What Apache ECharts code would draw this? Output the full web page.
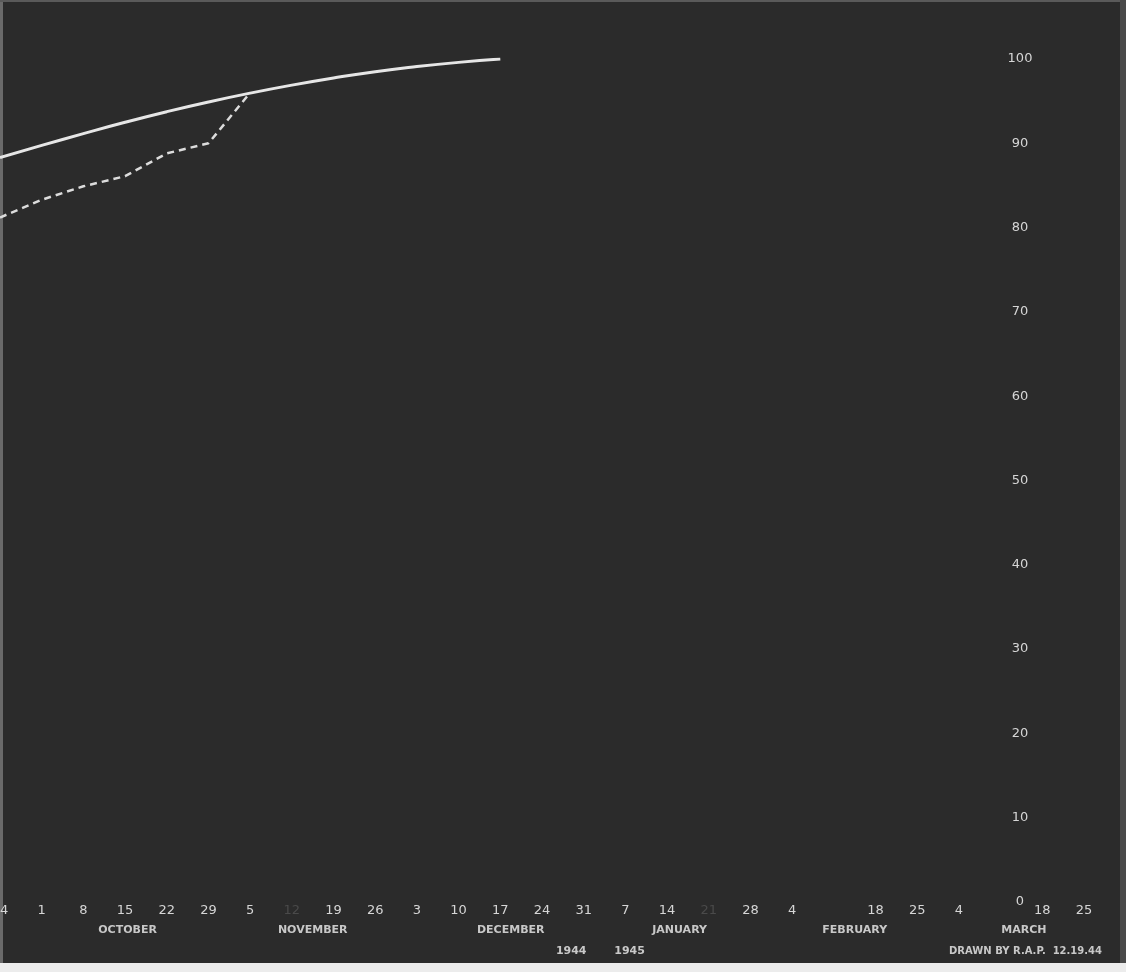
<!DOCTYPE html>
<html>
<head>
<meta charset="utf-8">
<script src="https://cdn.jsdelivr.net/npm/echarts@6/dist/echarts.min.js"></script>
<style>
html,body{margin:0;padding:0;background:#2b2b2b;}
#chart{width:1126px;height:972px;}
</style>
</head>
<body>
<div id="chart"></div>
<script>
// Week tick labels (Sundays, Sep 24 1944 .. Mar 25 1945)
var weekLabels = ["24","1","8","15","22","29","5","12","19","26","3","10","17","24","31","7","14","21","28","4","11","18","25","4","11","18","25"];
// Solid curve (per cent)
var solidValues = [88.3, 89.75, 91.15, 92.5, 93.75, 94.9, 95.95, 96.9, 97.75, 98.5, 99.1, 99.6, 100.0];
// Dashed line (per cent)
var dashedValues = [81.2, 83.3, 84.9, 86.1, 88.8, 90.0, 96.0];
// Month names and their centre (in week-index units)
var monthNames = ["OCTOBER","NOVEMBER","DECEMBER","JANUARY","FEBRUARY","MARCH"];
var monthCentres = [3.06, 7.5, 12.25, 16.3, 20.5, 24.56];
var yearNames = ["1944","1945"];
var yearCentres = [13.7, 15.1];
var footerText = "DRAWN BY R.A.P.  12.19.44";
var yTicks = [0,10,20,30,40,50,60,70,80,90,100];

var dimIdx = [7, 17];
var hiddenIdx = [20, 24];

function pad(arr, n){ var out = arr.slice(); while(out.length < n) out.push(null); return out; }

var chart = echarts.init(document.getElementById('chart'), null, {renderer:'canvas'});
var textColor = '#d6d6d6';
chart.setOption({
  backgroundColor: '#2b2b2b',
  animation: false,
  grid: {left: 0, right: 42, top: 59, bottom: 70, containLabel: false, outerBoundsMode: 'none'},
  xAxis: {
    type: 'category',
    data: weekLabels,
    boundaryGap: false,
    axisLine: {show: false},
    axisTick: {show: false},
    splitLine: {show: false},
    axisLabel: {
      interval: 0,
      margin: 2,
      hideOverlap: false,
      color: textColor,
      fontFamily: 'DejaVu Sans',
      fontSize: 13,
      formatter: function(v, i){
        if (hiddenIdx.indexOf(i) >= 0) return '';
        if (dimIdx.indexOf(i) >= 0) return '{d|' + v + '}';
        return v;
      },
      rich: {d: {color: '#4a4a4a', fontFamily: 'DejaVu Sans', fontSize: 13}}
    }
  },
  yAxis: {
    type: 'value',
    min: 0, max: 100, interval: 10,
    position: 'right',
    offset: -64,
    axisLine: {show: false},
    axisTick: {show: false},
    splitLine: {show: false},
    axisLabel: {
      margin: 0,
      align: 'center',
      color: textColor,
      fontFamily: 'DejaVu Sans',
      fontSize: 13,
      formatter: function(v){ return yTicks.indexOf(v) >= 0 ? String(v) : ''; }
    }
  },
  series: [
    {
      type: 'line',
      data: pad(solidValues, weekLabels.length),
      smooth: 0.5,
      showSymbol: false,
      connectNulls: false,
      lineStyle: {color: '#e6e6e6', width: 3}
    },
    {
      type: 'line',
      data: pad(dashedValues, weekLabels.length),
      smooth: false,
      showSymbol: false,
      lineStyle: {color: '#dcdcdc', width: 2.5, type: [7, 5]}
    }
  ]
});

var p0 = chart.convertToPixel({xAxisIndex: 0}, 0);
var pN = chart.convertToPixel({xAxisIndex: 0}, weekLabels.length - 1);
function xAt(f){ return p0 + (pN - p0) * f / (weekLabels.length - 1); }

var g = [];
monthNames.forEach(function(m, i){
  g.push({type: 'text', x: xAt(monthCentres[i]), y: 930, style: {
    text: m, fill: '#c8c8c8', font: 'bold 11px "DejaVu Sans"', textAlign: 'center', textVerticalAlign: 'middle'}});
});
yearNames.forEach(function(yn, i){
  g.push({type: 'text', x: xAt(yearCentres[i]), y: 951, style: {
    text: yn, fill: '#c8c8c8', font: 'bold 11px "DejaVu Sans"', textAlign: 'center', textVerticalAlign: 'middle'}});
});
g.push({type: 'text', x: 1102, y: 951, style: {
  text: footerText, fill: '#c8c8c8', font: 'bold 10px "DejaVu Sans"', textAlign: 'right', textVerticalAlign: 'middle'}});
// photographic border of the print
g.push({type: 'rect', shape: {x: 0, y: 963, width: 1126, height: 9}, style: {fill: '#ececec'}, silent: true});
g.push({type: 'rect', shape: {x: 0, y: 0, width: 3, height: 963}, style: {fill: '#6a6a6a'}, silent: true});
g.push({type: 'rect', shape: {x: 0, y: 0, width: 1126, height: 2}, style: {fill: '#5a5a5a'}, silent: true});
g.push({type: 'rect', shape: {x: 1120, y: 0, width: 6, height: 963}, style: {fill: '#4a4a4a'}, silent: true});
chart.setOption({graphic: g});
</script>
</body>
</html>
